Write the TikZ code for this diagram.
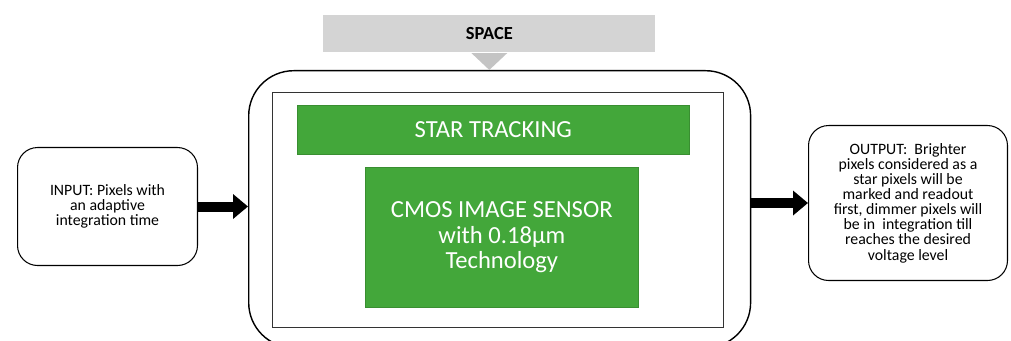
\documentclass[tikz,border=0pt]{standalone}
\usepackage{fontspec}
\setmainfont{Carlito}
\usepackage{xcolor}
\usetikzlibrary{arrows.meta, positioning, calc}
\definecolor{stargreen}{RGB}{67,167,58}
\definecolor{spacegray}{RGB}{212,212,212}
\definecolor{tipgray}{RGB}{196,196,196}

\begin{document}
\begin{tikzpicture}[x=0.02cm, y=-0.02cm,
    greenbox/.style={fill=stargreen, draw=stargreen!85!black, line width=0.4pt, text=white,
        font=\fontsize{14}{14.5}\selectfont, align=center, inner sep=0pt, anchor=north west},
    sidebox/.style={draw, rounded corners=0.4cm, line width=0.6pt, align=center,
        font=\fontsize{9}{8.6}\selectfont, inner sep=0pt, anchor=north west},
    blockarrow/.style={line width=0.2cm, -{Triangle[length=0.3cm, width=0.48cm]}}]
    \useasboundingbox (0,0) rectangle (1011,341);
    % system block
    \node[draw, line width=0.8pt, rounded corners=0.9cm, minimum width=10.04cm,
        minimum height=5.54cm, anchor=north west] (outer) at (248,70) {};
    \node[draw=black!80, line width=0.6pt, minimum width=9.02cm, minimum height=4.7cm,
        anchor=north west] (inner) at (272,92) {};
    \node[greenbox, minimum width=7.84cm, minimum height=0.98cm] (star) at (297,105) {STAR TRACKING};
    \node[greenbox, minimum width=5.46cm, minimum height=2.8cm] (cmos) at (365,167)
        {CMOS IMAGE SENSOR\\with 0.18µm\\Technology};
    % environment
    \node[fill=spacegray, minimum width=6.64cm, minimum height=0.74cm, anchor=north west,
        font=\fontsize{10.5}{12}\selectfont\bfseries] (space) at (323,15) {SPACE};
    \draw[tipgray, line width=0.34cm, -{Triangle[length=0.34cm, width=0.7cm]}]
        (space.south) -- (space.south |- outer.north);
    % input and output
    \node[sidebox, minimum width=3.6cm, minimum height=2.36cm] (in) at (17,147)
        {INPUT: Pixels with\\an adaptive\\integration time};
    \node[sidebox, minimum width=3.98cm, minimum height=3.1cm] (out) at (808,125)
        {OUTPUT:~ Brighter\\pixels considered as a\\star pixels will be\\marked and readout\\first, dimmer pixels will\\be in~ integration till\\reaches the desired\\voltage level};
    \draw[blockarrow] (in.east) -- (in.east -| outer.west);
    \draw[blockarrow] (outer.east |- out.west) -- (out.west);
\end{tikzpicture}
\end{document}
